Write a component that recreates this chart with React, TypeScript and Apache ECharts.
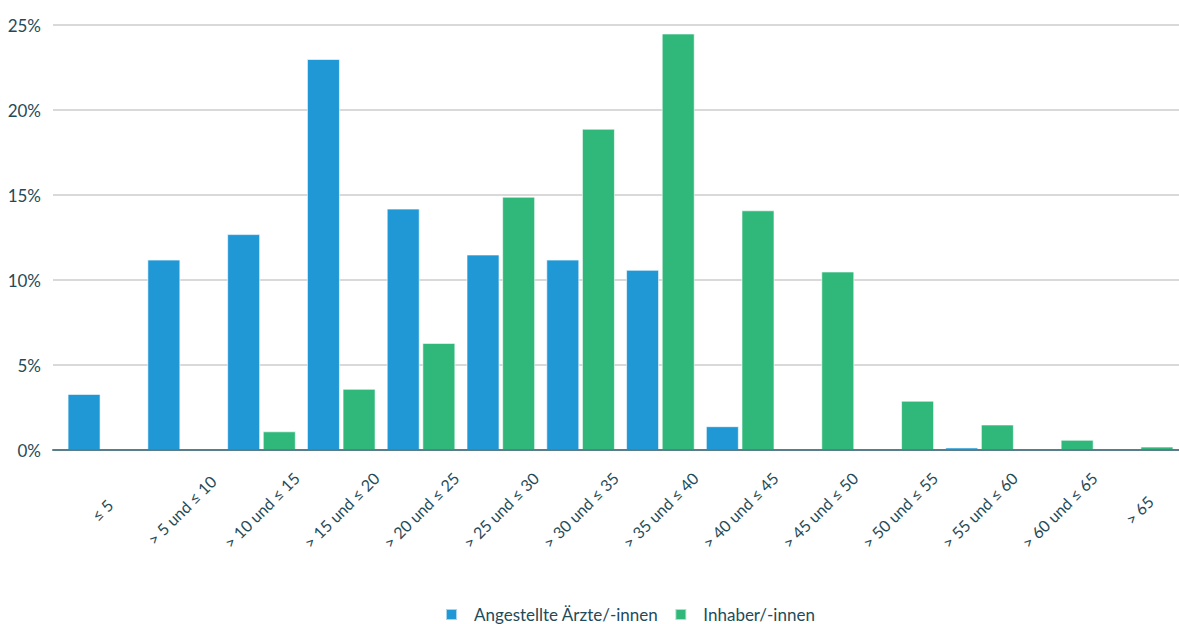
import React, { useEffect, useRef } from "react";
import * as echarts from "echarts";

const categories = [
  "≤ 5",
  "> 5 und ≤ 10",
  "> 10 und ≤ 15",
  "> 15 und ≤ 20",
  "> 20 und ≤ 25",
  "> 25 und ≤ 30",
  "> 30 und ≤ 35",
  "> 35 und ≤ 40",
  "> 40 und ≤ 45",
  "> 45 und ≤ 50",
  "> 50 und ≤ 55",
  "> 55 und ≤ 60",
  "> 60 und ≤ 65",
  "> 65",
];

const angestellte = [3.3, 11.2, 12.7, 23.0, 14.2, 11.5, 11.2, 10.6, 1.4, 0, 0, 0.15, 0, 0];
const inhaber = [0, 0, 1.1, 3.6, 6.3, 14.9, 18.9, 24.5, 14.1, 10.5, 2.9, 1.5, 0.6, 0.2];

const seriesNames = ["Angestellte Ärzte/-innen", "Inhaber/-innen"];
const yTicks = { min: 0, max: 25, interval: 5 };

const TEXT = "#1f4b58";
const BLUE = "#2098d6";
const GREEN = "#2fb87a";
const FONT = "Lato, 'Noto Sans', sans-serif";

export default function App() {
  const ref = useRef<HTMLDivElement>(null);
  useEffect(() => {
    if (!ref.current) return;
    const chart = echarts.init(ref.current, null, { renderer: "svg" });
    chart.setOption({
      animation: false,
      textStyle: { fontFamily: FONT },
      grid: [
        { left: 53, top: 25, width: 1126, bottom: 174 },
        { left: 62, top: 25, width: 1120, bottom: 174 },
      ],
      legend: {
        left: 440,
        top: 601,
        icon: "rect",
        itemWidth: 11,
        itemHeight: 11,
        itemGap: 16,
        data: seriesNames,
        textStyle: { color: TEXT, fontSize: 17, fontFamily: FONT, padding: [0, 0, 0, 12] },
      },
      xAxis: [
        {
          gridIndex: 0,
          type: "value",
          min: 0,
          max: 1,
          axisLine: { show: true, lineStyle: { color: "#5a7e89", width: 2 } },
          axisTick: { show: false },
          axisLabel: { show: false },
          splitLine: { show: false },
          z: 10,
        },
        {
          gridIndex: 1,
          type: "category",
          data: categories,
          axisLine: { show: false },
          axisTick: { show: false },
          axisLabel: {
            color: TEXT,
            fontSize: 16,
            fontFamily: FONT,
            rotate: 45,
            align: "center",
            verticalAlign: "middle",
            margin: 60,
            interval: 0,
          },
          z: 11,
        },
      ],
      yAxis: [
        {
          gridIndex: 0,
          type: "value",
          min: yTicks.min,
          max: yTicks.max,
          interval: yTicks.interval,
          axisLine: { show: false },
          axisTick: { show: false },
          axisLabel: { color: TEXT, fontSize: 17, fontFamily: FONT, formatter: "{value}%", margin: 12 },
          splitLine: { show: true, lineStyle: { color: "#cccccc", width: 1.5 } },
        },
        {
          gridIndex: 1,
          type: "value",
          min: yTicks.min,
          max: yTicks.max,
          show: false,
          splitLine: { show: false },
        },
      ],
      series: [
        {
          name: seriesNames[0],
          type: "bar",
          xAxisIndex: 1,
          yAxisIndex: 1,
          data: angestellte,
          barWidth: 33,
          barGap: "8%",
          itemStyle: { color: BLUE, borderColor: "rgba(255,255,255,0.6)", borderWidth: 1 },
        },
        {
          name: seriesNames[1],
          type: "bar",
          xAxisIndex: 1,
          yAxisIndex: 1,
          data: inhaber,
          barWidth: 33,
          barGap: "8%",
          itemStyle: { color: GREEN, borderColor: "rgba(255,255,255,0.6)", borderWidth: 1 },
        },
      ],
    });
    return () => chart.dispose();
  }, []);
  return (
    <div
      ref={ref}
      style={{ position: "fixed", left: 0, top: 0, width: 1179, height: 624, background: "#fff" }}
    />
  );
}
